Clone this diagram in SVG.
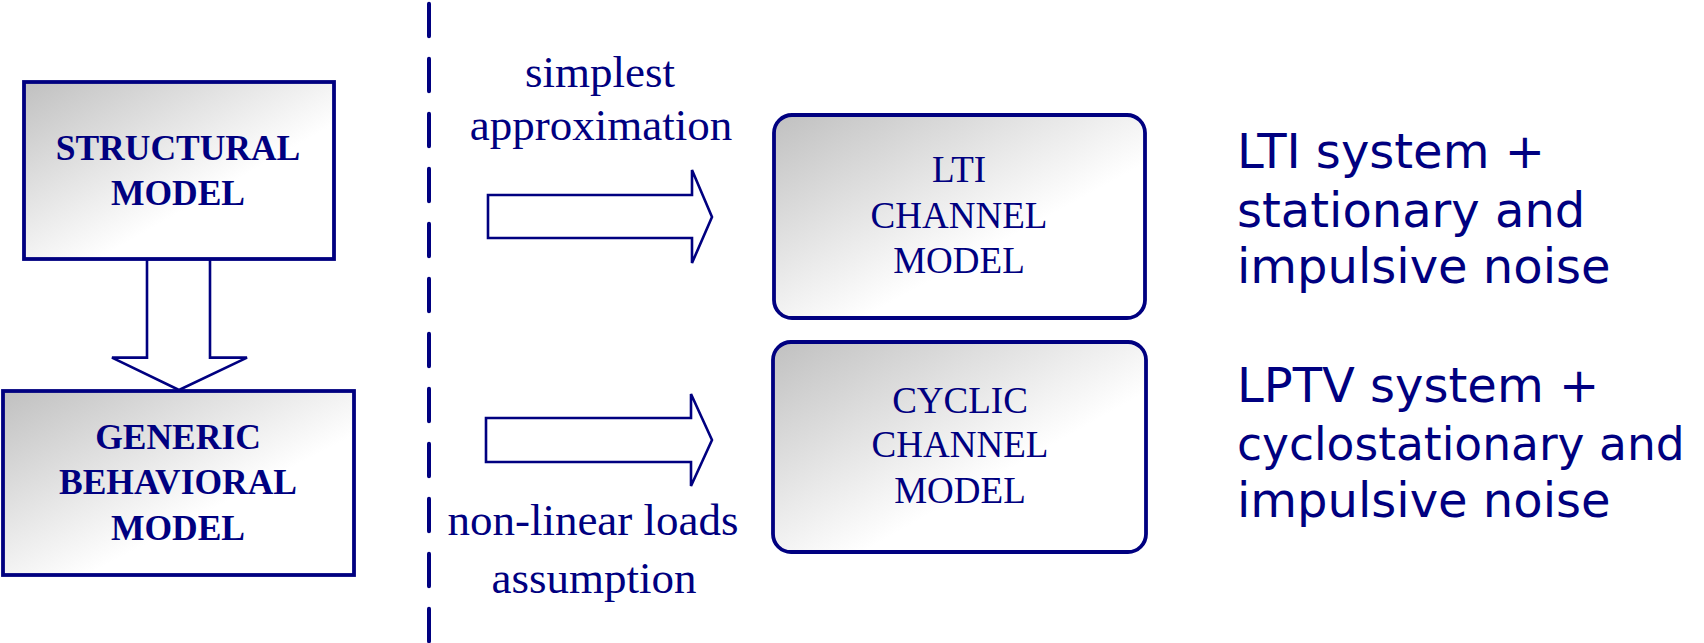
<svg xmlns="http://www.w3.org/2000/svg" width="1704" height="643" viewBox="0 0 1704 643">
<defs>
<linearGradient id="g" x1="0" y1="0" x2="1" y2="1">
<stop offset="0" stop-color="#c0c0c0"/>
<stop offset="0.62" stop-color="#ffffff"/>
<stop offset="1" stop-color="#ffffff"/>
</linearGradient>
</defs>
<style>
.box{fill:url(#g);stroke:#000080;stroke-width:3.8}
.arr{fill:#fff;stroke:#000080;stroke-width:2.6;stroke-linejoin:miter}
.bt{font-family:"Liberation Serif",serif;font-weight:bold;font-size:35.5px;fill:#000080;text-anchor:middle}
.rt{font-family:"Liberation Serif",serif;font-size:37px;fill:#000080;text-anchor:middle}
.lb{font-family:"Liberation Serif",serif;font-size:45px;fill:#000080;text-anchor:middle}
.st{font-family:"DejaVu Sans",sans-serif;font-size:48px;fill:#000080}
</style>
<rect width="1704" height="643" fill="#fff"/>
<g id="connectors">
<line x1="429" y1="3.7" x2="429" y2="643" stroke="#000080" stroke-width="4" stroke-linecap="round" stroke-dasharray="32.5 22.5"/>
<polygon class="arr" points="147,259 210,259 210,357.6 247,357.6 179,390 112,357.6 147,357.6"/>
<polygon class="arr" points="488,195 692,195 692,170 712,217 692,263 692,238 488,238"/>
<polygon class="arr" points="486,418 691,418 691,394 712,440 691,486 691,462 486,462"/>
</g>
<g id="structural">
<rect class="box" x="24" y="82" width="310" height="177"/>
<text class="bt" x="178" y="160">STRUCTURAL</text>
<text class="bt" x="178" y="204.5">MODEL</text>
</g>
<g id="generic">
<rect class="box" x="3" y="391" width="351" height="184"/>
<text class="bt" x="178" y="449">GENERIC</text>
<text class="bt" x="178" y="494">BEHAVIORAL</text>
<text class="bt" x="178" y="540">MODEL</text>
</g>
<g id="lti">
<rect class="box" x="774" y="115" width="371" height="203" rx="18"/>
<text class="rt" x="959" y="182">LTI</text>
<text class="rt" x="959" y="228">CHANNEL</text>
<text class="rt" x="959" y="273">MODEL</text>
</g>
<g id="cyclic">
<rect class="box" x="773" y="342" width="373" height="210" rx="18"/>
<text class="rt" x="960" y="413">CYCLIC</text>
<text class="rt" x="960" y="457">CHANNEL</text>
<text class="rt" x="960" y="503">MODEL</text>
</g>
<g id="label-simplest">
<text class="lb" x="600" y="87">simplest</text>
<text class="lb" x="601" y="140">approximation</text>
</g>
<g id="label-nonlinear">
<text class="lb" x="593" y="535">non-linear loads</text>
<text class="lb" x="594" y="593">assumption</text>
</g>
<g id="desc-lti">
<text class="st" x="1237" y="168">LTI system +</text>
<text class="st" x="1237" y="227">stationary and</text>
<text class="st" x="1237" y="283">impulsive noise</text>
</g>
<g id="desc-lptv">
<text class="st" x="1237" y="402">LPTV system +</text>
<text class="st" x="1237" y="460" style="font-size:45.5px">cyclostationary and</text>
<text class="st" x="1237" y="517">impulsive noise</text>
</g>
</svg>
